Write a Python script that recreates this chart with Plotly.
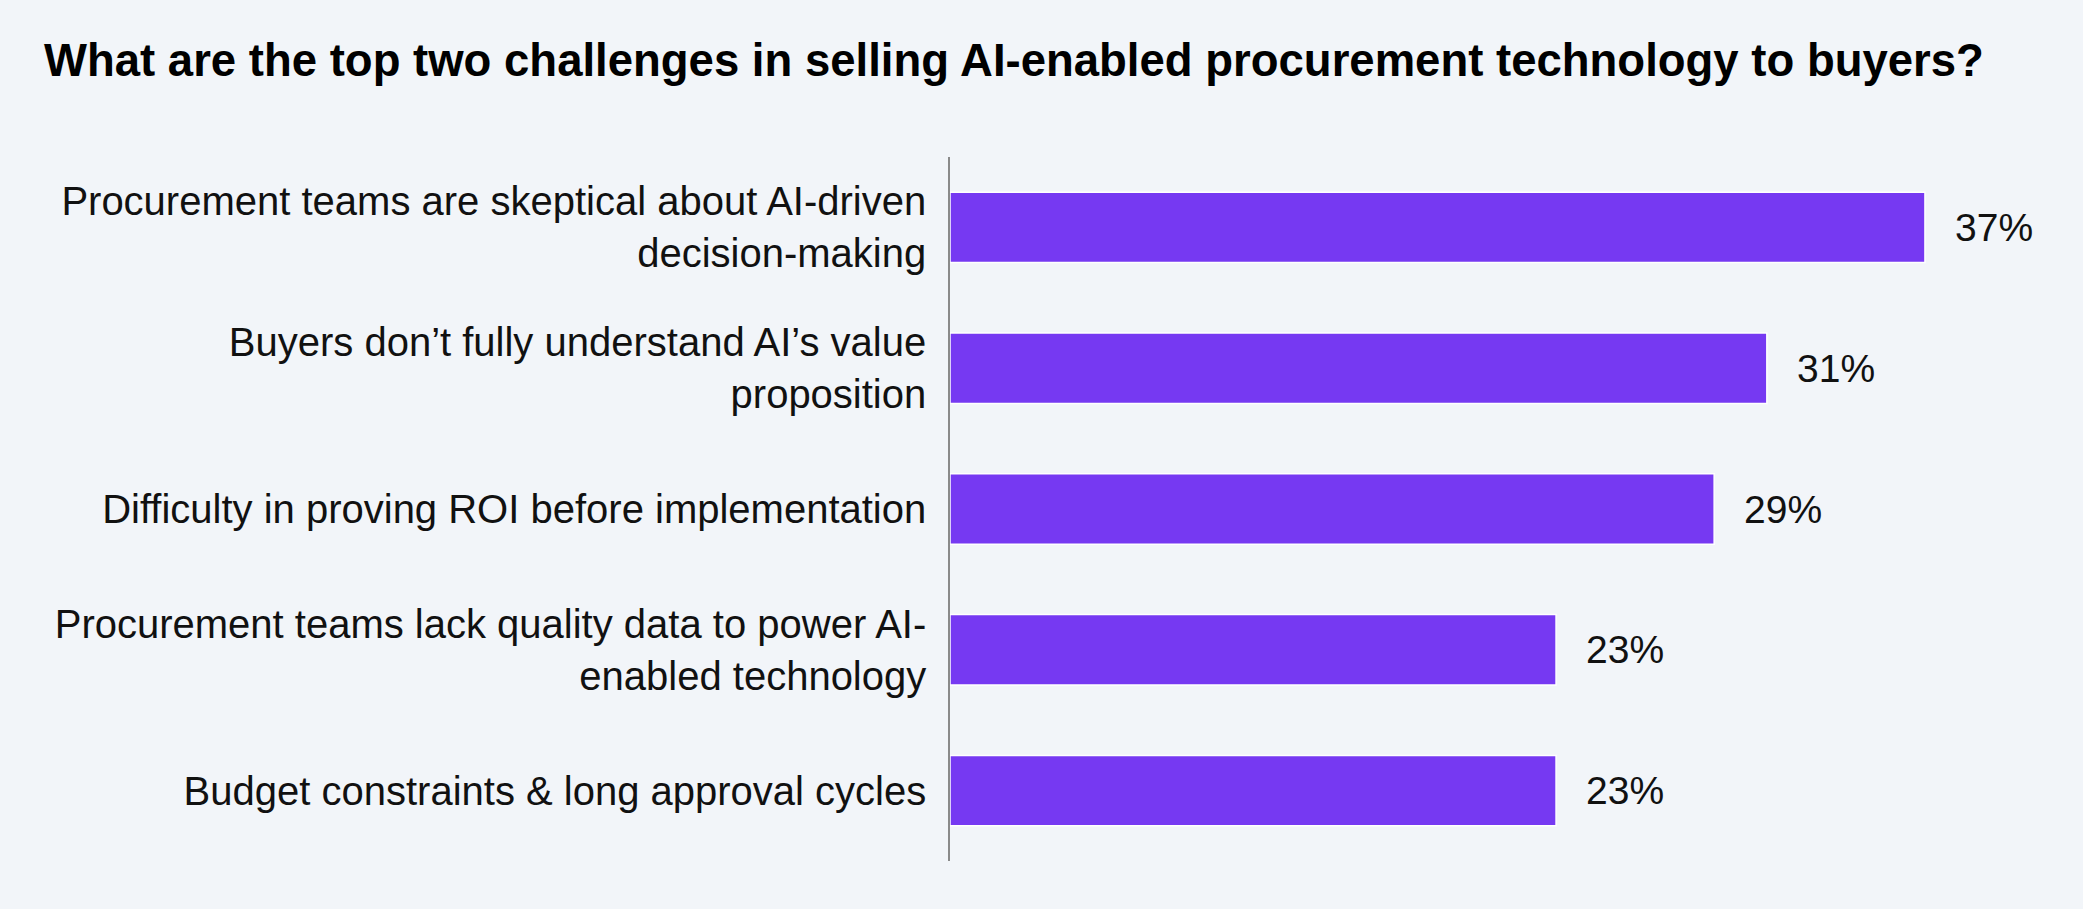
import plotly.graph_objects as go

categories = [
    "Procurement teams are skeptical about AI-driven<br>decision-making",
    "Buyers don’t fully understand AI’s value<br>proposition",
    "Difficulty in proving ROI before implementation",
    "Procurement teams lack quality data to power AI-<br>enabled technology",
    "Budget constraints & long approval cycles",
]
values = [37, 31, 29, 23, 23]
value_labels = ["37%", "31%", "29%", "23%", "23%"]

BG = "#F2F5F9"
BAR = "#7639F2"
FONT = "Liberation Sans, Arial, Helvetica, sans-serif"

fig = go.Figure()
fig.add_trace(go.Bar(
    x=values,
    y=categories,
    orientation="h",
    marker=dict(color=BAR, line=dict(color="white", width=1.5)),
    hoverinfo="skip",
))

for v, c, t in zip(values, categories, value_labels):
    fig.add_annotation(
        x=v, y=c, xref="x", yref="y",
        text=t, showarrow=False,
        xanchor="left", yanchor="middle", xshift=28,
        font=dict(family=FONT, size=39, color="#111111"),
    )

fig.update_layout(
    width=2083, height=909,
    paper_bgcolor=BG, plot_bgcolor=BG,
    margin=dict(l=950, r=79, t=157, b=48, autoexpand=False),
    bargap=0.5,
    showlegend=False,
    title=dict(
        text="<b>What are the top two challenges in selling AI-enabled procurement technology to buyers?</b>",
        x=44 / 2083, xanchor="left", xref="container",
        y=1 - 60 / 909, yanchor="middle", yref="container",
        font=dict(family=FONT, size=45.5, color="#000000"),
    ),
    xaxis=dict(
        range=[0, 40], showgrid=False, zeroline=False,
        showticklabels=False, showline=False, fixedrange=True,
    ),
    yaxis=dict(
        autorange=False, range=[4.5, -0.5],
        showgrid=False, zeroline=False,
        showline=True, linecolor="#8A8A8A", linewidth=1.5,
        ticks="outside", ticklen=14, tickcolor="rgba(0,0,0,0)",
        tickfont=dict(family=FONT, size=40, color="#111111"),
        fixedrange=True,
    ),
)

fig.write_html("out.html")
